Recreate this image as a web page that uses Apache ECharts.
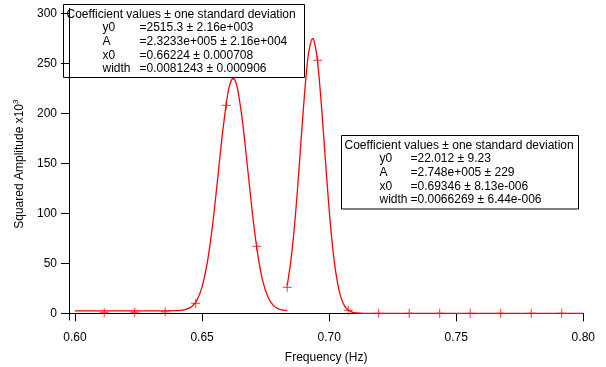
<!DOCTYPE html>
<html>
<head>
<meta charset="utf-8">
<script src="https://cdn.jsdelivr.net/npm/echarts@6/dist/echarts.min.js"></script>
<style>
  html, body { margin: 0; padding: 0; background: #fff; }
  #main { width: 606px; height: 367px; }
</style>
</head>
<body>
<div id="main"></div>
<script>
// fit curve 1 (first peak)
const fit1X = [0.600, 0.620, 0.635, 0.640, 0.643, 0.646, 0.648, 0.650, 0.652, 0.654, 0.656, 0.658, 0.660, 0.661, 0.6622, 0.663, 0.664, 0.666, 0.668, 0.670, 0.672, 0.674, 0.676, 0.678, 0.680, 0.682, 0.6835];
const fit1Y = [2.5, 2.5, 2.5, 2.6, 3.4, 6.8, 13.3, 26.5, 49.9, 85.5, 131.3, 179.4, 217.8, 229.5, 234.8, 232.8, 224.2, 190.0, 143.0, 95.8, 57.4, 31.1, 15.7, 7.9, 4.5, 3.1, 2.8];

// fit curve 2 (second peak)
const fit2X = [0.6835, 0.684, 0.685, 0.686, 0.687, 0.688, 0.689, 0.690, 0.691, 0.692, 0.6935, 0.694, 0.695, 0.696, 0.697, 0.698, 0.699, 0.700, 0.701, 0.702, 0.703, 0.704, 0.705, 0.706, 0.707, 0.709, 0.711, 0.714, 0.750, 0.800];
const fit2Y = [28.0, 35.8, 53.9, 77.4, 106.3, 139.4, 174.7, 209.2, 239.4, 261.8, 274.8, 273.0, 260.3, 237.3, 206.6, 171.9, 136.6, 103.8, 75.3, 52.2, 34.6, 21.9, 13.2, 7.7, 4.2, 1.1, 0.3, 0.0, 0.0, 0.0];

// measured points (+ markers)
const pointX = [0.6115, 0.6235, 0.6355, 0.6475, 0.6595, 0.6715, 0.6835, 0.6955, 0.7075, 0.7195, 0.7315, 0.7435, 0.7555, 0.7675, 0.7795, 0.7915];
const pointY = [0.6, 1.0, 1.4, 10, 208, 67, 26, 253, 3, 0, 0, 0, 0, 0, 0, 0];

const xTicks = [0.60, 0.65, 0.70, 0.75, 0.80];
const yTicks = [0, 50, 100, 150, 200, 250, 300];

const box1Lines = [
  ["y0", "=2515.3 ± 2.16e+003"],
  ["A", "=2.3233e+005 ± 2.16e+004"],
  ["x0", "=0.66224 ± 0.000708"],
  ["width", "=0.0081243 ± 0.000906"],
];
const box2Lines = [
  ["y0", "=22.012 ± 9.23"],
  ["A", "=2.748e+005 ± 229"],
  ["x0", "=0.69346 ± 8.13e-006"],
  ["width", "=0.0066269 ± 6.44e-006"],
];

const FONT = "Liberation Sans, Arial, sans-serif";
const RED = "#ff0000";

const zip = (xs, ys) => xs.map((x, i) => [x, ys[i]]);

function coefBox(left, top, w, h, labelX, valueX, lines) {
  const children = [
    {
      type: "rect",
      shape: { x: 0, y: 0, width: w, height: h },
      style: { fill: "#fff", stroke: "#000", lineWidth: 1 },
    },
    {
      type: "text",
      x: 3, y: 10,
      style: { text: "Coefficient values ± one standard deviation", font: "12px " + FONT, fill: "#000", verticalAlign: "middle" },
    },
  ];
  lines.forEach((l, i) => {
    const y = 10 + 13.6 * (i + 1);
    children.push({
      type: "text", x: labelX, y: y,
      style: { text: l[0], font: "12px " + FONT, fill: "#000", verticalAlign: "middle" },
    });
    children.push({
      type: "text", x: valueX, y: y,
      style: { text: l[1], font: "12px " + FONT, fill: "#000", verticalAlign: "middle" },
    });
  });
  return { type: "group", x: left, y: top, z: 100, children };
}

const chart = echarts.init(document.getElementById("main"), null, { renderer: "canvas" });

const option = {
  animation: false,
  backgroundColor: "#fff",
  textStyle: { fontFamily: FONT },
  grid: { left: 69, right: 22.7, top: 8.3, bottom: 47, containLabel: false, outerBoundsMode: "none" },
  xAxis: {
    type: "value",
    min: 0.59764,
    max: 0.80,
    name: "Frequency (Hz)",
    nameLocation: "middle",
    nameGap: 32,
    nameTextStyle: { color: "#000", fontSize: 12, fontFamily: FONT },
    axisLine: { show: true, lineStyle: { color: "#000", width: 1 } },
    axisTick: { show: true, length: 8, lineStyle: { color: "#000" }, customValues: xTicks },
    axisLabel: { color: "#000", fontSize: 12, fontFamily: FONT, margin: 12, customValues: xTicks, formatter: (v) => v.toFixed(2) },
    splitLine: { show: false },
  },
  yAxis: {
    type: "value",
    min: -6.7,
    max: 305,
    name: "Squared Amplitude x10{sup|3}",
    nameLocation: "middle",
    nameGap: 36,
    nameTextStyle: {
      color: "#000", fontSize: 12, fontFamily: FONT,
      rich: { sup: { fontSize: 8, verticalAlign: "top", padding: [0, 0, 8, 0], color: "#000" } },
    },
    axisLine: { show: true, lineStyle: { color: "#000", width: 1 } },
    axisTick: { show: true, length: 8, lineStyle: { color: "#000" }, customValues: yTicks },
    axisLabel: { color: "#000", fontSize: 12, fontFamily: FONT, margin: 12, customValues: yTicks },
    splitLine: { show: false },
  },
  series: [
    {
      name: "fit1",
      type: "line",
      data: zip(fit1X, fit1Y),
      smooth: 0.3,
      showSymbol: false,
      lineStyle: { color: RED, width: 1.3 },
      clip: true,
    },
    {
      name: "fit2",
      type: "line",
      data: zip(fit2X, fit2Y),
      smooth: 0.3,
      showSymbol: false,
      lineStyle: { color: RED, width: 1.3 },
      clip: true,
    },
    {
      name: "data",
      type: "scatter",
      data: zip(pointX, pointY),
      symbol: "path://M0,5L10,5M5,0L5,10",
      symbolSize: 9,
      itemStyle: { color: "transparent", borderColor: RED, borderWidth: 1 },
    },
  ],
  graphic: [
    coefBox(63.5, 4.5, 241, 73, 39, 76, box1Lines),
    coefBox(341.5, 135.5, 237, 73.5, 38, 69, box2Lines),
  ],
};

chart.setOption(option);
</script>
</body>
</html>
